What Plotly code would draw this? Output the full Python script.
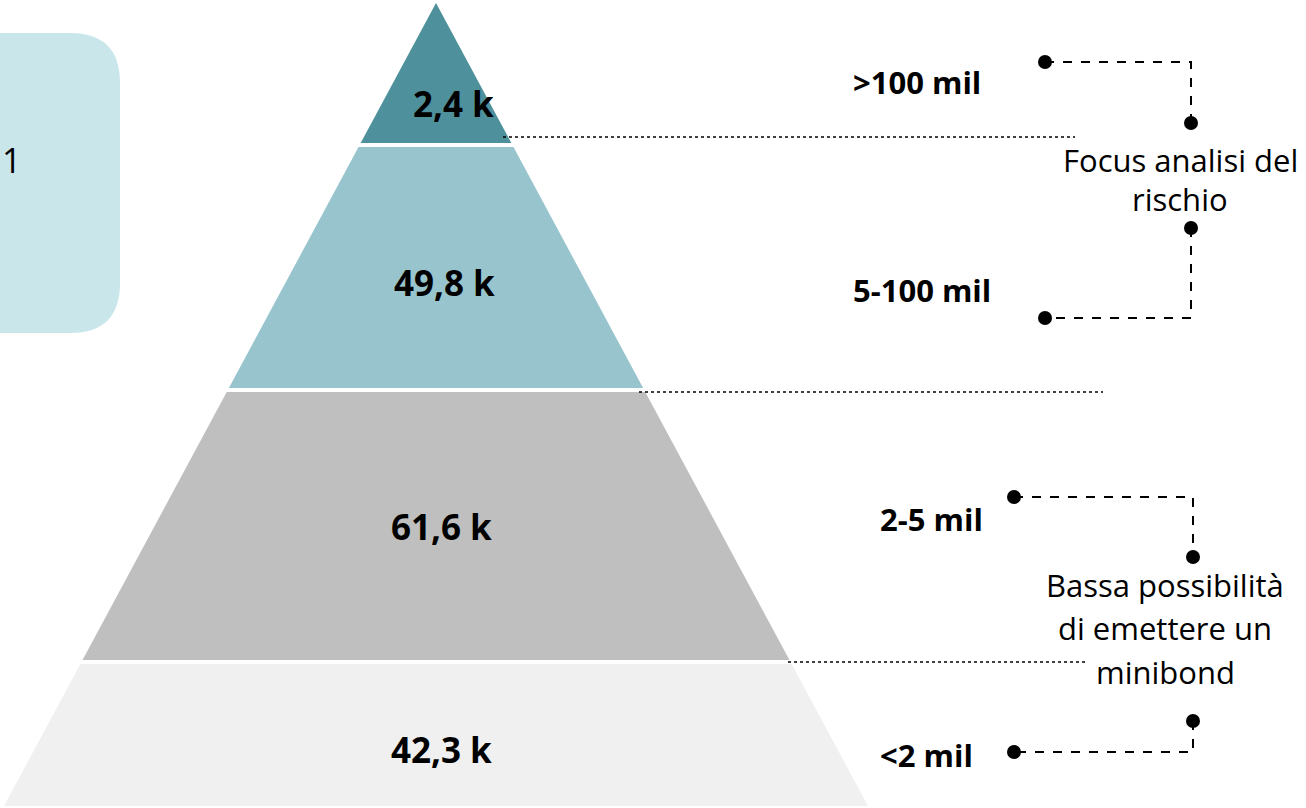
import plotly.graph_objects as go

W, H = 1306, 808

# ---- data ----
counts = ["2,4 k", "49,8 k", "61,6 k", "42,3 k"]
classes = [">100 mil", "5-100 mil", "2-5 mil", "<2 mil"]
groups = [["Focus analisi del", "rischio"],
          ["Bassa possibilità", "di emettere un", "minibond"]]
left_note = "1"

# ---- geometry / style ----
band_colors = ["#4E919D", "#98C5CD", "#BFBFBF", "#F0F0F0"]
band_tops = [3, 147, 392, 664]
band_bottoms = [143, 388, 660, 806]
apex_x, apex_y, slope = 436, 3, 0.538
count_pos = [(453, 103), (444, 282), (441, 526), (441, 749)]
class_pos = [(851, 82), (851, 290), (878, 519), (878, 755)]

def edge(y):
    h = slope * (y - apex_y)
    return apex_x - h, apex_x + h

fig = go.Figure()

for i, c in enumerate(counts):
    t, b = band_tops[i], band_bottoms[i]
    lt, rt = edge(t)
    lb, rb = edge(b)
    fig.add_trace(go.Scatter(
        x=[lt, rt, rb, lb, lt], y=[t, t, b, b, t],
        mode="lines", fill="toself", fillcolor=band_colors[i],
        line=dict(width=0), hoverinfo="skip", showlegend=False))
    fig.add_annotation(x=count_pos[i][0], y=count_pos[i][1], text="<b>%s</b>" % c,
                       showarrow=False, xanchor="center", yanchor="middle",
                       font=dict(family="Open Sans", size=35, color="black"))

for i, c in enumerate(classes):
    fig.add_annotation(x=class_pos[i][0], y=class_pos[i][1], text="<b>%s</b>" % c,
                       showarrow=False, xanchor="left", yanchor="middle",
                       font=dict(family="Open Sans", size=31, color="black"))

# dotted separators
for (x0, x1, y) in [(503, 1075, 137), (639, 1103, 392), (788, 1086, 662)]:
    fig.add_trace(go.Scatter(x=[x0, x1], y=[y, y], mode="lines",
                             line=dict(color="black", width=1.6, dash="dot"),
                             hoverinfo="skip", showlegend=False))

# bracket connectors
connectors = [
    ([1045, 1191, 1191], [62, 62, 123]),
    ([1191, 1191, 1045], [228, 318, 318]),
    ([1014, 1193, 1193], [497, 497, 557]),
    ([1193, 1193, 1014], [721, 752, 752]),
]
for xs, ys in connectors:
    fig.add_trace(go.Scatter(x=xs, y=ys, mode="lines",
                             line=dict(color="black", width=2, dash="dash"),
                             hoverinfo="skip", showlegend=False))
    fig.add_trace(go.Scatter(x=[xs[0], xs[-1]], y=[ys[0], ys[-1]], mode="markers",
                             marker=dict(color="black", size=14),
                             hoverinfo="skip", showlegend=False))

# group descriptions
group_lines = [[(1180, 160), (1180, 199)],
               [(1165, 585), (1165, 628), (1165, 672)]]
for g, pos in zip(groups, group_lines):
    for txt, (x, y) in zip(g, pos):
        fig.add_annotation(x=x, y=y, text=txt, showarrow=False,
                           xanchor="center", yanchor="middle",
                           font=dict(family="Open Sans", size=31, color="black"))

# left rounded box
fig.add_shape(type="path", xref="x", yref="y",
              path="M -20,33 L 70,33 Q 120,33 120,83 L 120,283 Q 120,333 70,333 L -20,333 Z",
              fillcolor="#C9E6EA", line=dict(width=0), layer="below")
fig.add_annotation(x=0, y=160, text=left_note, showarrow=False, xanchor="left",
                   yanchor="middle", font=dict(family="Open Sans", size=34, color="black"))

fig.update_layout(
    width=W, height=H, margin=dict(l=0, r=0, t=0, b=0),
    paper_bgcolor="white", plot_bgcolor="white",
    xaxis=dict(range=[0, W], visible=False, fixedrange=True),
    yaxis=dict(range=[H, 0], visible=False, fixedrange=True),
    showlegend=False,
)

fig.write_html("out.html")
